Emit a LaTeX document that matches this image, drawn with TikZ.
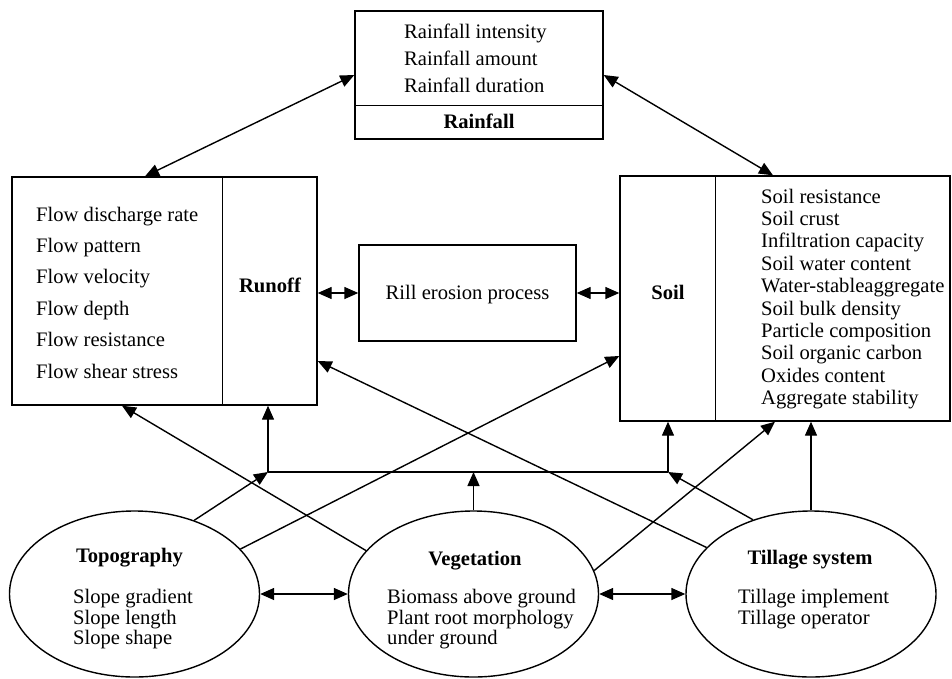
\documentclass[tikz,border=0pt]{standalone}
\usepackage{fontspec}
\setmainfont{Liberation Serif}
\usetikzlibrary{arrows.meta,shapes.geometric,calc}
\begin{document}
\begin{tikzpicture}[x=1pt,y=-1pt,
  box/.style={draw,line width=1.4pt,rectangle,inner sep=0pt,anchor=center},
  ell/.style={draw,line width=1.4pt,ellipse,inner sep=0pt,minimum width=250pt,minimum height=166pt},
  txt/.style={font=\fontsize{20.6}{24}\selectfont,inner sep=0pt,anchor=base west},
  btxt/.style={font=\fontsize{20.6}{24}\selectfont\bfseries,inner sep=0pt,anchor=base},
  con/.style={line width=1.4pt},
  conarrow/.style={-{Triangle[length=14pt,width=12pt]}},
  condouble/.style={{Triangle[length=14pt,width=12pt]}-{Triangle[length=14pt,width=12pt]}},
]
\fill[white] (0,0) rectangle (952,678);
\useasboundingbox (0,0) rectangle (952,678);

% boxes
\node[box,minimum width=248pt,minimum height=128pt] (rain) at (479,75) {};
\draw[con] ([yshift=-95pt]rain.north west) -- ([yshift=-95pt]rain.north east);
\node[box,minimum width=305pt,minimum height=228pt] (runoff) at (164.5,291) {};
\draw[con] ([xshift=211pt]runoff.north west) -- ([xshift=211pt]runoff.south west);
\node[box,minimum width=217pt,minimum height=96pt] (rill) at (467.5,293) {};
\node[box,minimum width=330pt,minimum height=245pt] (soil) at (785,298.5) {};
\draw[con] ([xshift=96pt]soil.north west) -- ([xshift=96pt]soil.south west);

% ellipses
\node[ell] (topo) at (134.5,594) {};
\node[ell] (veg) at (473.5,594) {};
\node[ell] (till) at (811,594) {};

% texts
\foreach \t [count=\i] in {Rainfall intensity,Rainfall amount,Rainfall duration}
  \node[txt] (rf\i) at (404,{38+27*(\i-1)}) {\t};
\node[btxt] (rainlbl) at (479,128) {Rainfall};

\foreach \t [count=\i] in {Flow discharge rate,Flow pattern,Flow velocity,Flow depth,Flow resistance,Flow shear stress}
  \node[txt] (ro\i) at (36,{221+31.4*(\i-1)}) {\t};
\node[btxt] (runofflbl) at (270,292) {Runoff};

\node[txt,anchor=base] (rilllbl) at (467.5,299) {Rill erosion process};

\node[btxt] (soillbl) at (668,299) {Soil};
\foreach \t [count=\i] in {Soil resistance,Soil crust,Infiltration capacity,Soil water content,Water-stableaggregate,Soil bulk density,Particle composition,Soil organic carbon,Oxides content,Aggregate stability}
  \node[txt] (so\i) at (761,{203+22.4*(\i-1)}) {\t};

\node[btxt] (topolbl) at (129.5,562) {Topography};
\foreach \t [count=\i] in {Slope gradient,Slope length,Slope shape}
  \node[txt] (tp\i) at (73,{603.5+20.5*(\i-1)}) {\t};

\node[btxt] (veglbl) at (475,565) {Vegetation};
\foreach \t [count=\i] in {Biomass above ground,Plant root morphology,under ground}
  \node[txt] (vg\i) at (387,{603.5+20.5*(\i-1)}) {\t};

\node[btxt] (tilllbl) at (810,564) {Tillage system};
\foreach \t [count=\i] in {Tillage implement,Tillage operator}
  \node[txt] (tl\i) at (738,{603.5+20.5*(\i-1)}) {\t};

% bus
\coordinate (busL) at (268,472);
\coordinate (busR) at (668,472);
\coordinate (busV) at (veg.north |- busL);

% connectors
\draw[con,condouble] (rain.west) -- ([xshift=-19.5pt]runoff.north);
\draw[con,condouble] (rain.east) -- ([xshift=-12pt]soil.north);
\draw[con,condouble] (runoff.east |- rill.west) -- (rill.west);
\draw[con,condouble] (rill.east) -- (soil.west |- rill.east);
\draw[con] (busL) -- (busR);
\draw[con,conarrow] (busL) -- (busL |- runoff.south);
\draw[con,conarrow] (busR) -- (busR |- soil.south);
\draw[con,conarrow] (topo.51) -- (busL);
\draw[con,conarrow] (topo.23) -- ([yshift=-57.5pt]soil.west);
\draw[con,conarrow] (veg.158) -- ([xshift=-42.5pt]runoff.south);
\draw[con,conarrow] (veg.north) -- (busV);
\draw[con,conarrow] (veg.11) -- ([xshift=-10pt]soil.south);
\draw[con,conarrow] (till.156) -- ([yshift=-70pt]runoff.east);
\draw[con,conarrow] (till.128) -- (busR);
\draw[con,conarrow] (till.north) -- (till.north |- soil.south);
\draw[con,condouble] (topo.east) -- (veg.west);
\draw[con,condouble] (veg.east) -- (till.west);
\end{tikzpicture}
\end{document}
